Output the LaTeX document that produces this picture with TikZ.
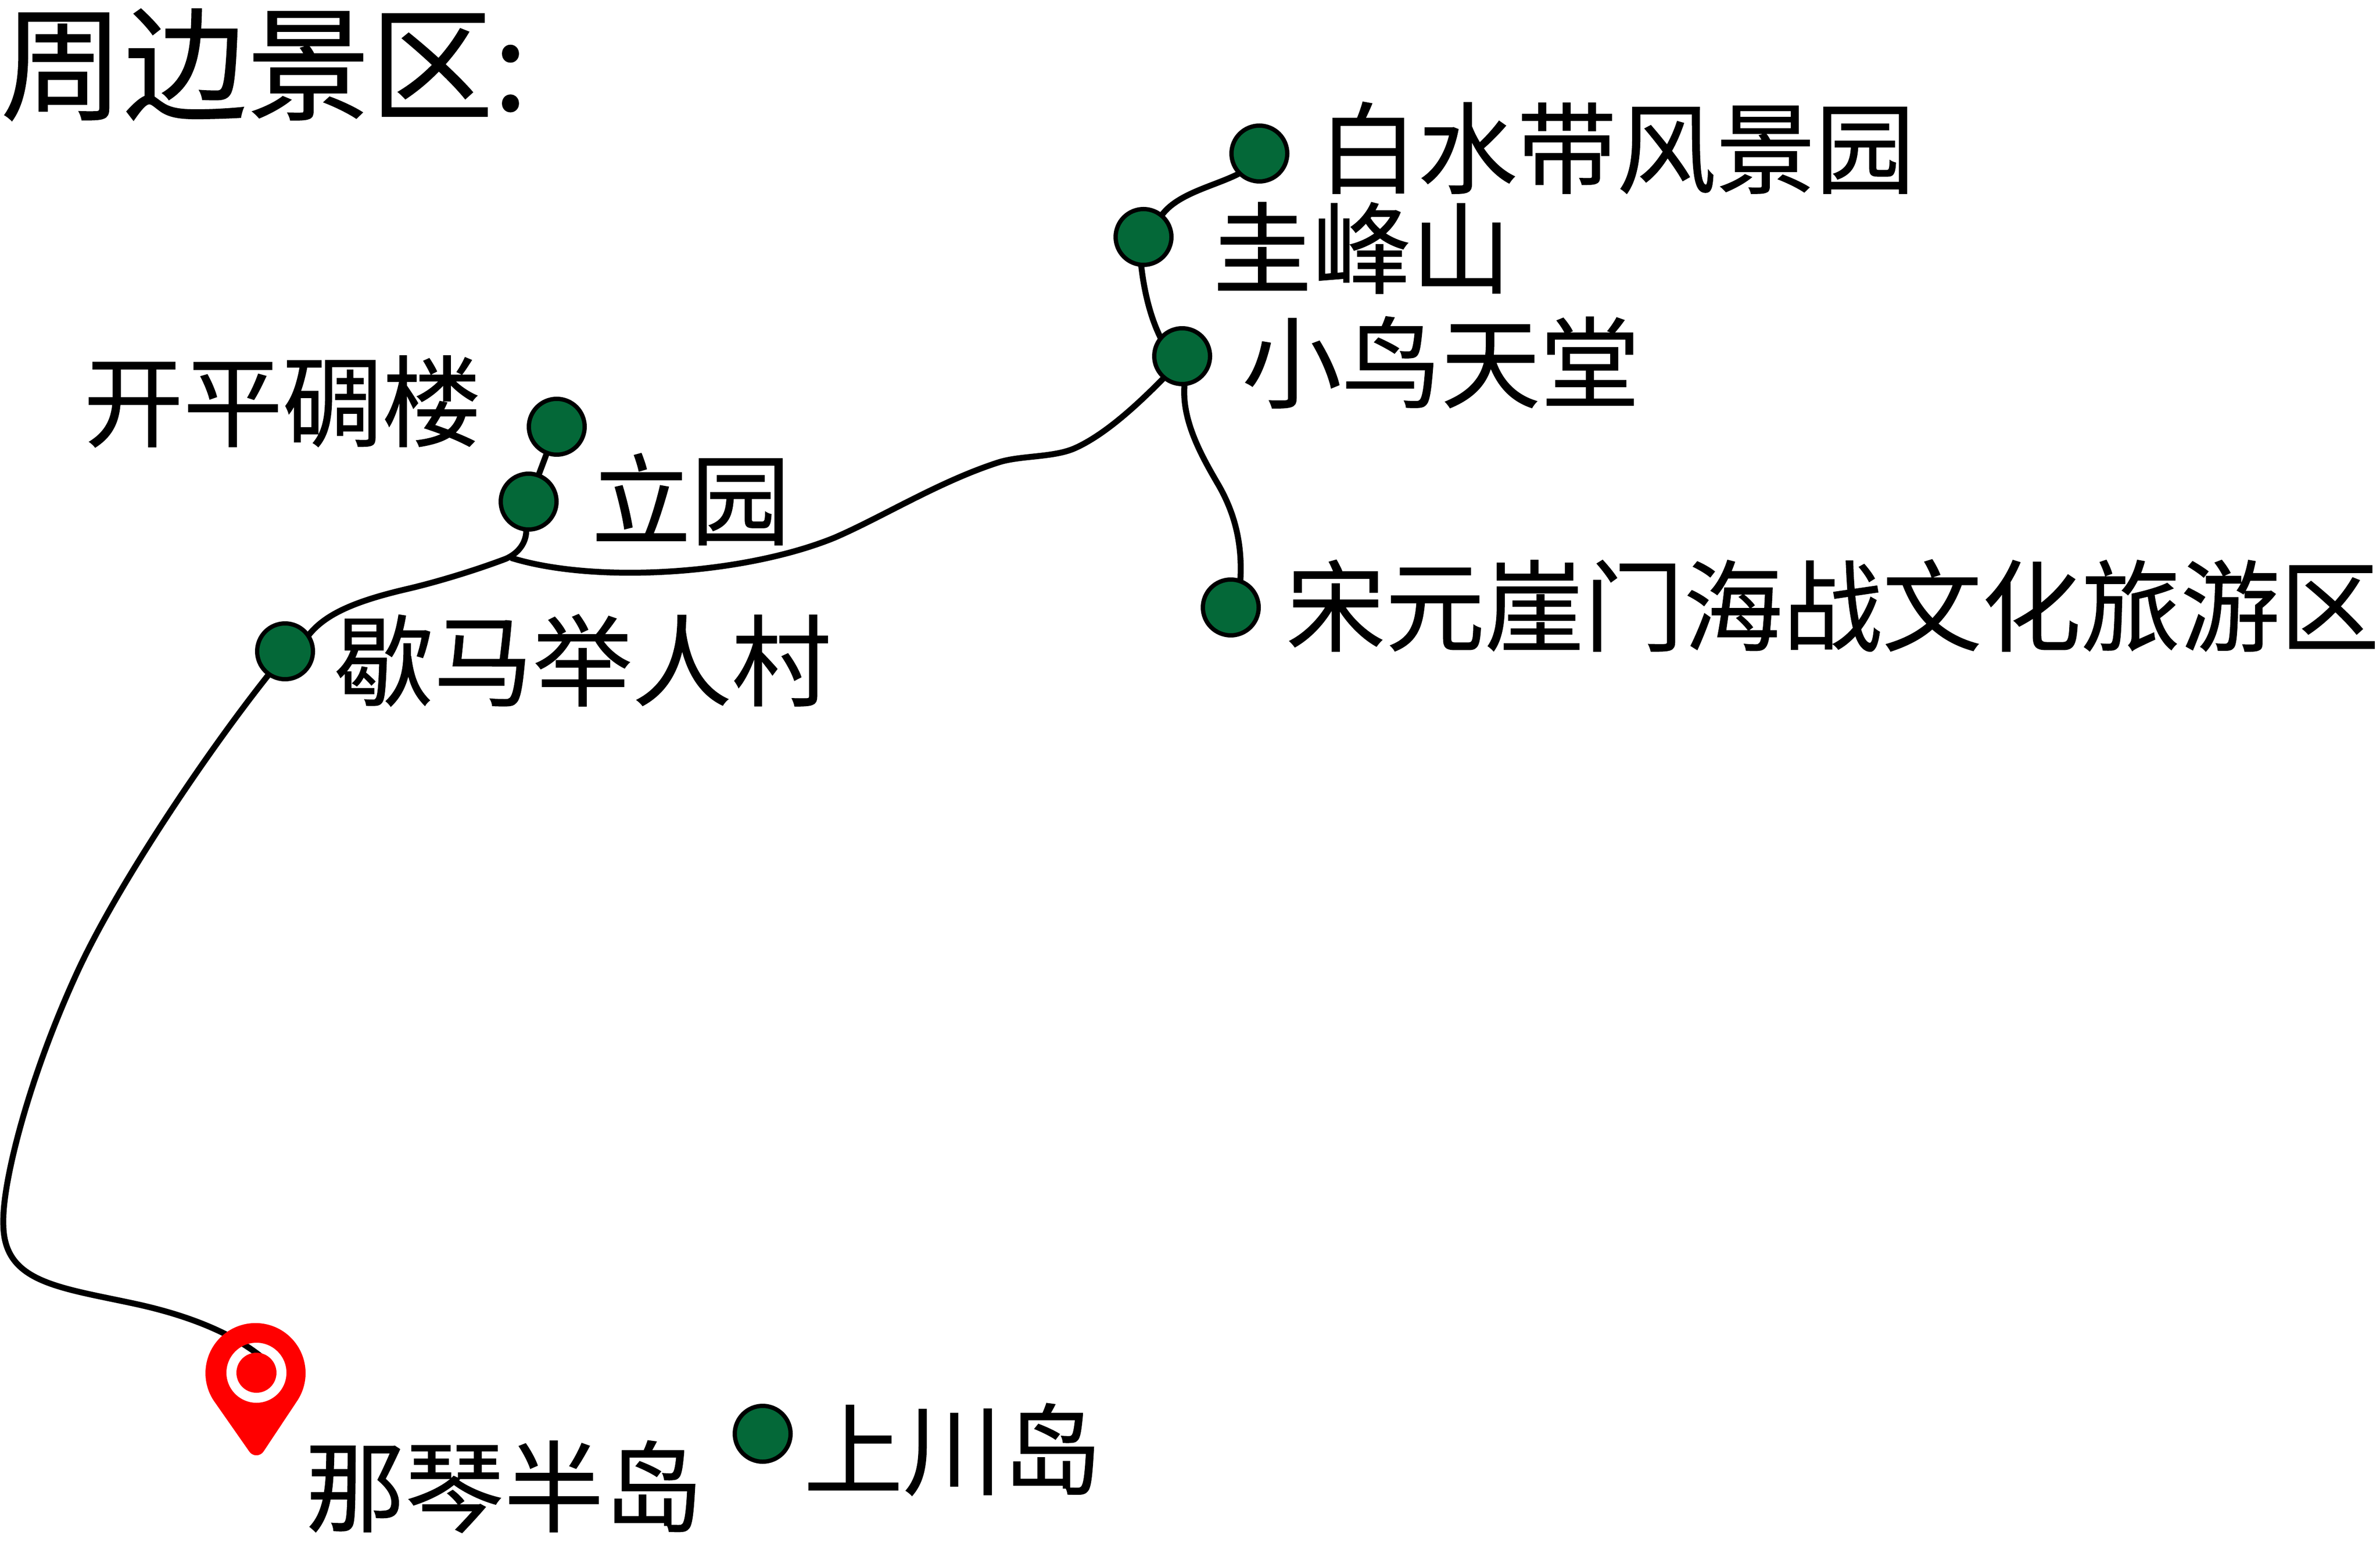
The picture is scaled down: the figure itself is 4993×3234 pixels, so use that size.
\documentclass[tikz,border=0pt]{standalone}
\usepackage{fontspec}
\setmainfont[FakeBold=0.6]{Noto Sans CJK SC}
\definecolor{spot}{RGB}{4,104,56}
\tikzset{
  spotdot/.style={circle,draw=black,fill=spot,line width=1.8pt,minimum size=23.4pt,inner sep=0pt,outer sep=0pt},
  road/.style={line width=2.5pt,black},
  lab/.style={inner sep=0pt,anchor=west,font=\fontsize{41.7pt}{41.7pt}\selectfont},
  title/.style={inner sep=0pt,anchor=west,font=\fontsize{51.7pt}{51.7pt}\selectfont}
}
\begin{document}
\begin{tikzpicture}[x=0.2pt,y=-0.2pt]
\useasboundingbox (0,0) rectangle (4993,3234);
\coordinate (pinc) at (538,2879);
\coordinate (pinend) at (565,2860);
\coordinate (junc) at (1072,1170);
\node[spotdot] (gema) at (598,1366) {};
\node[spotdot] (kaiping) at (1168,895) {};
\node[spotdot] (liyuan) at (1109,1052) {};
\node[spotdot] (baishui) at (2642,322) {};
\node[spotdot] (guifeng) at (2399,497) {};
\node[spotdot] (xiaoniao) at (2480,747) {};
\node[spotdot] (songyuan) at (2582,1274) {};
\node[spotdot] (shangchuan) at (1600,3007) {};
\draw[road] (pinend) .. controls (500,2800) and (400,2760) .. (286,2735)
  .. controls (120,2699) and (5,2690) .. (7,2563)
  .. controls (5,2480) and (60,2260) .. (163,2037)
  .. controls (250,1849) and (440,1570) .. (gema.235);
\draw[road] (gema.34) .. controls (680,1290) and (740,1262) .. (851,1236)
  .. controls (920,1220) and (1000,1195) .. (1061,1172)
  .. controls (1095,1157) and (1105,1130) .. (liyuan.265);
\draw[road] (junc) .. controls (1250,1225) and (1560,1205) .. (1750,1128)
  .. controls (1850,1085) and (1970,1010) .. (2094,970)
  .. controls (2140,955) and (2210,960) .. (2255,940)
  .. controls (2320,911) and (2390,845) .. (xiaoniao.230);
\draw[road] (kaiping) -- (liyuan);
\draw[road] (baishui.225) .. controls (2550,390) and (2470,405) .. (guifeng.50);
\draw[road] (guifeng.265) .. controls (2400,610) and (2413,665) .. (xiaoniao.140);
\draw[road] (xiaoniao.275) .. controls (2478,880) and (2520,955) .. (2555,1015)
  .. controls (2590,1075) and (2607,1140) .. (songyuan.70);
\fill[red,even odd rule]
  (448,2937) arc[start angle=147,end angle=393,radius=105]
  -- (553,3044) arc[start angle=33,end angle=147,radius=18] -- cycle
  (pinc) circle[radius=63]
  (pinc) circle[radius=42];
\node[title] (ttl) at (0,136) {周边景区:};
\node[lab] (t1) at (2765,310) {白水带风景园};
\node[lab] (t2) at (2543,520) {圭峰山};
\node[lab] (t3) at (2605,760) {小鸟天堂};
\node[lab] (t4) at (175,842) {开平碉楼};
\node[lab] (t5) at (1240,1047) {立园};
\node[lab] (t6) at (2697,1270) {宋元崖门海战文化旅游区};
\node[lab] (t7) at (700,1385) {歇马举人村};
\node[lab] (t8) at (640,3118) {那琴半岛};
\node[lab] (t9) at (1685,3040) {上川岛};
\end{tikzpicture}
\end{document}
